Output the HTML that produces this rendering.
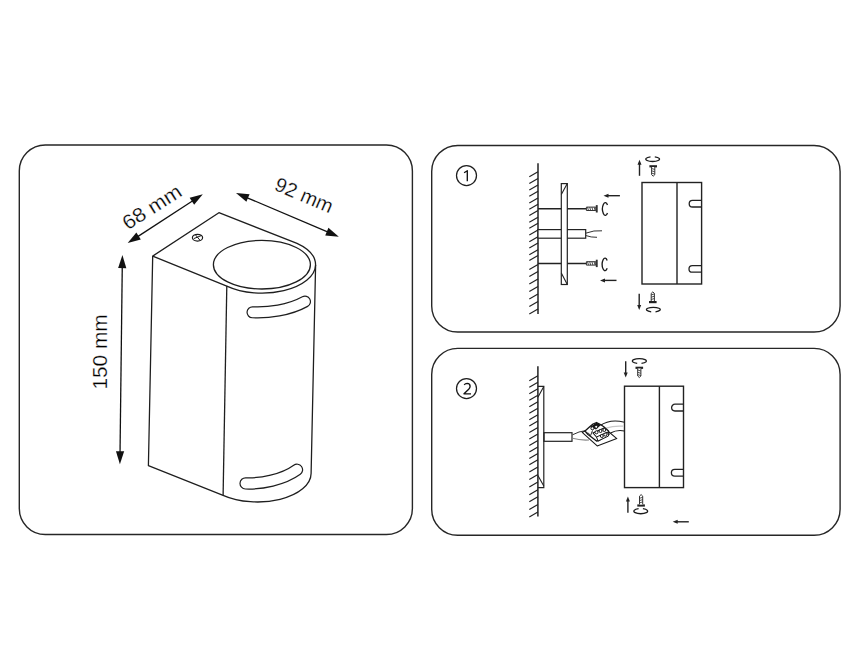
<!DOCTYPE html>
<html><head><meta charset="utf-8"><style>
html,body{margin:0;padding:0;background:#fff;width:860px;height:668px;overflow:hidden}
svg{display:block}
</style></head><body><svg width="860" height="668" viewBox="0 0 860 668"><rect x="19.3" y="145" width="393.1" height="389.5" rx="26" ry="26" fill="none" stroke="#262626" stroke-width="1.4"/><rect x="431.7" y="145.5" width="408.4" height="186.5" rx="26" ry="26" fill="none" stroke="#262626" stroke-width="1.4"/><rect x="431.7" y="348.4" width="408.4" height="186.9" rx="26" ry="26" fill="none" stroke="#262626" stroke-width="1.4"/><path d="M152.7 256.1 L218.9 212.7 L297 243.3 A53.6 28.6 0 0 1 315.6 265 A53.6 28.6 0 0 1 226.8 286.1 Z" fill="none" stroke="#1e1e1e" stroke-width="1.3" stroke-linejoin="round"/><path d="M152.7 256.1 L148.4 465.7 L223.1 495.3 A53.6 28.6 0 0 0 311.1 473.5 L315.6 265" fill="none" stroke="#1e1e1e" stroke-width="1.3" stroke-linejoin="round"/><path d="M226.8 286.1 L223.1 495.3" fill="none" stroke="#1e1e1e" stroke-width="1.3" stroke-linejoin="round"/><ellipse cx="261.9" cy="264.7" rx="48.5" ry="24.3" fill="none" stroke="#1e1e1e" stroke-width="1.3" stroke-linejoin="round"/><ellipse cx="197.5" cy="237.7" rx="5.1" ry="3.35" fill="none" stroke="#1a1a1a" stroke-width="1.2"/><path d="M195.7 235.1 L200.2 240.5 M193.8 238.6 L201.5 235.5" stroke="#1a1a1a" stroke-width="1"/><path d="M252.5 312.3 C268 313 289 310.5 305 301.6" fill="none" stroke="#1e1e1e" stroke-width="12.1" stroke-linecap="round"/><path d="M252.5 312.3 C268 313 289 310.5 305 301.6" fill="none" stroke="#fff" stroke-width="9.7" stroke-linecap="round"/><path d="M245.6 483.4 C261 484 283 480 297 469.8" fill="none" stroke="#1e1e1e" stroke-width="12.4" stroke-linecap="round"/><path d="M245.6 483.4 C261 484 283 480 297 469.8" fill="none" stroke="#fff" stroke-width="10.0" stroke-linecap="round"/><line x1="122.26849337779318" y1="266.0992138813788" x2="120.03150662220683" y2="453.2007861186212" stroke="#111" stroke-width="1.3"/><polygon points="122.40,255.10 126.34,268.15 118.14,268.05" fill="#111"/><polygon points="119.90,464.20 115.96,451.15 124.16,451.25" fill="#111"/><line x1="136.91810945922947" y1="237.09779557181994" x2="193.58189054077053" y2="200.20220442818004" stroke="#111" stroke-width="1.3"/><polygon points="127.70,243.10 136.36,232.57 140.83,239.44" fill="#111"/><polygon points="202.80,194.20 194.14,204.73 189.67,197.86" fill="#111"/><line x1="246.12328557758832" y1="197.3033811258814" x2="328.6767144224117" y2="232.3966188741186" stroke="#111" stroke-width="1.3"/><polygon points="236.00,193.00 249.57,194.31 246.36,201.86" fill="#111"/><polygon points="338.80,236.70 325.23,235.39 328.44,227.84" fill="#111"/><text transform="translate(107,352) rotate(-90)" font-family="Liberation Sans, sans-serif" font-size="20" fill="#000" stroke="#fff" stroke-width="0.25" text-anchor="middle" font-size="21.5" textLength="75" lengthAdjust="spacingAndGlyphs">150 mm</text><text transform="translate(155.5,212.8) rotate(-32.5)" font-family="Liberation Sans, sans-serif" font-size="20" fill="#000" stroke="#fff" stroke-width="0.25" text-anchor="middle" font-size="21.5" textLength="66" lengthAdjust="spacingAndGlyphs">68 mm</text><text transform="translate(301.5,201.5) rotate(23)" font-family="Liberation Sans, sans-serif" font-size="20" fill="#000" stroke="#fff" stroke-width="0.25" text-anchor="middle" font-size="20.6">92 mm</text><circle cx="466.5" cy="175.6" r="10" fill="none" stroke="#1e1e1e" stroke-width="1.25"/><circle cx="466.5" cy="388.6" r="10" fill="none" stroke="#1e1e1e" stroke-width="1.25"/><path d="M464.1 172.7 L467.3 170.7 L467.3 181.3" fill="none" stroke="#111" stroke-width="1.35" stroke-linejoin="round"/><path d="M464.2 384.8 Q465.3 383.3 467.1 383.3 Q470.1 383.4 470.1 386.3 Q470.1 387.7 468.7 389.2 L464 393.8 L471 393.8" fill="none" stroke="#111" stroke-width="1.35" stroke-linejoin="round"/><line x1="538" y1="163.3" x2="538" y2="314" stroke="#222" stroke-width="1.5"/><line x1="529.3" y1="176.8" x2="538" y2="171.8" stroke="#222" stroke-width="1.2"/><line x1="529.3" y1="183.4" x2="538" y2="178.4" stroke="#222" stroke-width="1.2"/><line x1="529.3" y1="189.9" x2="538" y2="184.9" stroke="#222" stroke-width="1.2"/><line x1="529.3" y1="196.2" x2="538" y2="191.2" stroke="#222" stroke-width="1.2"/><line x1="529.3" y1="202.9" x2="538" y2="197.9" stroke="#222" stroke-width="1.2"/><line x1="529.3" y1="209.2" x2="538" y2="204.2" stroke="#222" stroke-width="1.2"/><line x1="529.3" y1="215.5" x2="538" y2="210.5" stroke="#222" stroke-width="1.2"/><line x1="529.3" y1="222.2" x2="538" y2="217.2" stroke="#222" stroke-width="1.2"/><line x1="529.3" y1="228.2" x2="538" y2="223.2" stroke="#222" stroke-width="1.2"/><line x1="529.3" y1="235.0" x2="538" y2="230.0" stroke="#222" stroke-width="1.2"/><line x1="529.3" y1="241.7" x2="538" y2="236.7" stroke="#222" stroke-width="1.2"/><line x1="529.3" y1="248.0" x2="538" y2="243.0" stroke="#222" stroke-width="1.2"/><line x1="529.3" y1="254.7" x2="538" y2="249.7" stroke="#222" stroke-width="1.2"/><line x1="529.3" y1="260.6" x2="538" y2="255.6" stroke="#222" stroke-width="1.2"/><line x1="529.3" y1="269.4" x2="538" y2="264.4" stroke="#222" stroke-width="1.2"/><line x1="529.3" y1="276.4" x2="538" y2="271.4" stroke="#222" stroke-width="1.2"/><line x1="529.3" y1="283.9" x2="538" y2="278.9" stroke="#222" stroke-width="1.2"/><line x1="529.3" y1="291.6" x2="538" y2="286.6" stroke="#222" stroke-width="1.2"/><line x1="529.3" y1="299.1" x2="538" y2="294.1" stroke="#222" stroke-width="1.2"/><line x1="529.3" y1="306.6" x2="538" y2="301.6" stroke="#222" stroke-width="1.2"/><line x1="529.3" y1="313.9" x2="538" y2="308.9" stroke="#222" stroke-width="1.2"/><line x1="538" y1="208.8" x2="586.5" y2="208.8" stroke="#222" stroke-width="1.5"/><line x1="538" y1="263.4" x2="586.5" y2="263.4" stroke="#222" stroke-width="1.5"/><rect x="538" y="229.6" width="47.7" height="8.6" fill="#fff" stroke="#222" stroke-width="1.2"/><path d="M585.7 233.2 Q594 230 602 230.8 M585.7 235.5 Q591 237.5 597 237.3" fill="none" stroke="#333" stroke-width="1"/><rect x="561.3" y="183.6" width="6" height="100.9" fill="#fff" stroke="#222" stroke-width="1.2"/><path d="M567.3 183.6 L561.3 194.5 M561.3 273 L567.3 284.5" stroke="#222" stroke-width="1.1"/><path d="M586.4 207.10000000000002 L595.8 207.10000000000002 L595.8 210.5 L586.4 210.5 Z" fill="#fff" stroke="#333" stroke-width="1"/><rect x="595.8" y="205.10000000000002" width="1.9" height="7.4" fill="#333"/><line x1="587.5" y1="207.10000000000002" x2="588.5" y2="210.5" stroke="#333" stroke-width="0.85"/><line x1="589.7" y1="207.10000000000002" x2="590.7" y2="210.5" stroke="#333" stroke-width="0.85"/><line x1="591.9" y1="207.10000000000002" x2="592.9" y2="210.5" stroke="#333" stroke-width="0.85"/><line x1="594.1" y1="207.10000000000002" x2="595.1" y2="210.5" stroke="#333" stroke-width="0.85"/><path d="M586.4 261.7 L595.8 261.7 L595.8 265.09999999999997 L586.4 265.09999999999997 Z" fill="#fff" stroke="#333" stroke-width="1"/><rect x="595.8" y="259.7" width="1.9" height="7.4" fill="#333"/><line x1="587.5" y1="261.7" x2="588.5" y2="265.09999999999997" stroke="#333" stroke-width="0.85"/><line x1="589.7" y1="261.7" x2="590.7" y2="265.09999999999997" stroke="#333" stroke-width="0.85"/><line x1="591.9" y1="261.7" x2="592.9" y2="265.09999999999997" stroke="#333" stroke-width="0.85"/><line x1="594.1" y1="261.7" x2="595.1" y2="265.09999999999997" stroke="#333" stroke-width="0.85"/><path d="M607.47 205.06 A2.75 6.400000000000011 0 1 0 607.47 212.94" fill="none" stroke="#1a1a1a" stroke-width="1.35"/><path d="M607.17 260.52 A2.75 6.300000000000017 0 1 0 607.17 268.28" fill="none" stroke="#1a1a1a" stroke-width="1.35"/><line x1="606.5" y1="195.7" x2="619.9" y2="195.7" stroke="#222" stroke-width="1.4"/><polygon points="603.5,195.7 608.5,193.7 608.5,197.7" fill="#222"/><line x1="603" y1="280.4" x2="616.5" y2="280.4" stroke="#222" stroke-width="1.4"/><polygon points="600,280.4 605,278.4 605,282.4" fill="#222"/><line x1="675.7" y1="521.8" x2="688.8" y2="521.8" stroke="#222" stroke-width="1.4"/><polygon points="672.7,521.8 677.7,519.8 677.7,523.8" fill="#222"/><rect x="642" y="182.5" width="59.6" height="101.5" fill="none" stroke="#222" stroke-width="1.4"/><line x1="677" y1="182.5" x2="677" y2="284" stroke="#222" stroke-width="1.4"/><path d="M701.6 200.4 L692.5 200.4 A3.299999999999997 3.299999999999997 0 0 0 692.5 207 L701.6 207" fill="none" stroke="#222" stroke-width="1.3"/><path d="M701.6 265.6 L692.3 265.6 A3.299999999999983 3.299999999999983 0 0 0 692.3 272.2 L701.6 272.2" fill="none" stroke="#222" stroke-width="1.3"/><rect x="624.5" y="386.2" width="59.0" height="101.4" fill="none" stroke="#222" stroke-width="1.4"/><line x1="659.4" y1="386.2" x2="659.4" y2="487.6" stroke="#222" stroke-width="1.4"/><path d="M683.5 404.2 L675.0 404.2 A3.4000000000000057 3.4000000000000057 0 0 0 675.0 411 L683.5 411" fill="none" stroke="#222" stroke-width="1.3"/><path d="M683.5 469.4 L674.75 469.4 A3.3500000000000227 3.3500000000000227 0 0 0 674.75 476.1 L683.5 476.1" fill="none" stroke="#222" stroke-width="1.3"/><line x1="639.5" y1="162.7" x2="639.5" y2="175.8" stroke="#222" stroke-width="1.4"/><polygon points="639.5,159.7 637.5,164.7 641.5,164.7" fill="#222"/><path d="M650.5 156.79999999999998 A6.9 2.4 0 1 0 654.8 156.79999999999998" fill="none" stroke="#1a1a1a" stroke-width="1.3"/><rect x="649.4000000000001" y="165.2" width="7.6" height="2.2" fill="#222"/><path d="M651.6 167 L651.6 174.7 L653.2 176.2 L654.8000000000001 174.7 L654.8000000000001 167" fill="#fff" stroke="#333" stroke-width="1"/><line x1="651.6" y1="168.5" x2="654.8000000000001" y2="169.5" stroke="#333" stroke-width="0.85"/><line x1="651.6" y1="170.8" x2="654.8000000000001" y2="171.8" stroke="#333" stroke-width="0.85"/><line x1="651.6" y1="173.1" x2="654.8000000000001" y2="174.1" stroke="#333" stroke-width="0.85"/><line x1="639.2" y1="306.9" x2="639.2" y2="293.7" stroke="#222" stroke-width="1.4"/><polygon points="639.2,309.9 637.2,304.9 641.2,304.9" fill="#222"/><rect x="649.0" y="301" width="7.6" height="2.2" fill="#222"/><path d="M651.1999999999999 301 L651.1999999999999 293.4 L652.8 291.9 L654.4 293.4 L654.4 301" fill="#fff" stroke="#333" stroke-width="1"/><line x1="651.1999999999999" y1="299.5" x2="654.4" y2="298.5" stroke="#333" stroke-width="0.85"/><line x1="651.1999999999999" y1="297.2" x2="654.4" y2="296.2" stroke="#333" stroke-width="0.85"/><line x1="651.1999999999999" y1="294.9" x2="654.4" y2="293.9" stroke="#333" stroke-width="0.85"/><path d="M655.5 311.8 A6.9 2.3 0 1 0 651.2 311.8" fill="none" stroke="#1a1a1a" stroke-width="1.3"/><line x1="625.7" y1="374.5" x2="625.7" y2="361.3" stroke="#222" stroke-width="1.4"/><polygon points="625.7,377.5 623.7,372.5 627.7,372.5" fill="#222"/><path d="M641.5 363.4 A7 2.4 0 1 0 637.2 363.4" fill="none" stroke="#1a1a1a" stroke-width="1.3"/><rect x="635.5" y="366.7" width="7.6" height="2.2" fill="#222"/><path d="M637.6999999999999 368.5 L637.6999999999999 376.0 L639.3 377.5 L640.9 376.0 L640.9 368.5" fill="#fff" stroke="#333" stroke-width="1"/><line x1="637.6999999999999" y1="370.0" x2="640.9" y2="371.0" stroke="#333" stroke-width="0.85"/><line x1="637.6999999999999" y1="372.3" x2="640.9" y2="373.3" stroke="#333" stroke-width="0.85"/><line x1="637.6999999999999" y1="374.6" x2="640.9" y2="375.6" stroke="#333" stroke-width="0.85"/><line x1="627.9" y1="499.6" x2="627.9" y2="512.8" stroke="#222" stroke-width="1.4"/><polygon points="627.9,496.6 625.9,501.6 629.9,501.6" fill="#222"/><rect x="637.3000000000001" y="504.4" width="7.6" height="2.2" fill="#222"/><path d="M639.5 504.4 L639.5 496.1 L641.1 494.6 L642.7 496.1 L642.7 504.4" fill="#fff" stroke="#333" stroke-width="1"/><line x1="639.5" y1="502.9" x2="642.7" y2="501.9" stroke="#333" stroke-width="0.85"/><line x1="639.5" y1="500.59999999999997" x2="642.7" y2="499.59999999999997" stroke="#333" stroke-width="0.85"/><line x1="639.5" y1="498.29999999999995" x2="642.7" y2="497.29999999999995" stroke="#333" stroke-width="0.85"/><path d="M638.6 508.7 A6.9 2.6 0 1 0 642.9 508.7" fill="none" stroke="#1a1a1a" stroke-width="1.3"/><line x1="537.9" y1="366.3" x2="537.9" y2="516.5" stroke="#222" stroke-width="1.5"/><line x1="529.3" y1="380.8" x2="537.9" y2="375.8" stroke="#222" stroke-width="1.2"/><line x1="529.3" y1="387.3" x2="537.9" y2="382.3" stroke="#222" stroke-width="1.2"/><line x1="529.3" y1="393.8" x2="537.9" y2="388.8" stroke="#222" stroke-width="1.2"/><line x1="529.3" y1="400.3" x2="537.9" y2="395.3" stroke="#222" stroke-width="1.2"/><line x1="529.3" y1="406.8" x2="537.9" y2="401.8" stroke="#222" stroke-width="1.2"/><line x1="529.3" y1="413.3" x2="537.9" y2="408.3" stroke="#222" stroke-width="1.2"/><line x1="529.3" y1="419.8" x2="537.9" y2="414.8" stroke="#222" stroke-width="1.2"/><line x1="529.3" y1="426.0" x2="537.9" y2="421.0" stroke="#222" stroke-width="1.2"/><line x1="529.3" y1="432.4" x2="537.9" y2="427.4" stroke="#222" stroke-width="1.2"/><line x1="529.3" y1="438.9" x2="537.9" y2="433.9" stroke="#222" stroke-width="1.2"/><line x1="529.3" y1="445.5" x2="537.9" y2="440.5" stroke="#222" stroke-width="1.2"/><line x1="529.3" y1="452.0" x2="537.9" y2="447.0" stroke="#222" stroke-width="1.2"/><line x1="529.3" y1="458.4" x2="537.9" y2="453.4" stroke="#222" stroke-width="1.2"/><line x1="529.3" y1="464.8" x2="537.9" y2="459.8" stroke="#222" stroke-width="1.2"/><line x1="529.3" y1="471.9" x2="537.9" y2="466.9" stroke="#222" stroke-width="1.2"/><line x1="529.3" y1="479.4" x2="537.9" y2="474.4" stroke="#222" stroke-width="1.2"/><line x1="529.3" y1="487.0" x2="537.9" y2="482.0" stroke="#222" stroke-width="1.2"/><line x1="529.3" y1="494.7" x2="537.9" y2="489.7" stroke="#222" stroke-width="1.2"/><line x1="529.3" y1="501.8" x2="537.9" y2="496.8" stroke="#222" stroke-width="1.2"/><line x1="529.3" y1="509.5" x2="537.9" y2="504.5" stroke="#222" stroke-width="1.2"/><line x1="529.3" y1="517.1" x2="537.9" y2="512.1" stroke="#222" stroke-width="1.2"/><rect x="544" y="432.7" width="28" height="8.6" fill="#fff" stroke="#222" stroke-width="1.2"/><path d="M537.9 386.4 L543.8 386.4 L543.8 487.6 L537.9 487.6" fill="none" stroke="#222" stroke-width="1.2"/><path d="M543.8 386.4 L537.9 397.3 M537.9 475.5 L543.8 486" stroke="#222" stroke-width="1.1"/><path d="M572.5 434.8 Q578 431.5 587.5 430.2" fill="none" stroke="#333" stroke-width="1"/><path d="M572.5 438.3 Q580 440.5 589 440" fill="none" stroke="#888" stroke-width="1.1"/><polygon points="582.2,432.3 600.7,425 616.8,438.6 597.2,445.9" fill="#fff" stroke="#1a1a1a" stroke-width="1.1" stroke-linejoin="round"/><path d="M600 425.7 Q610 418.5 624.4 422.2" fill="none" stroke="#1a1a1a" stroke-width="1.1"/><path d="M606 428.2 Q614 425.5 623 426.2" fill="none" stroke="#c8c8c8" stroke-width="1.3"/><path d="M610.5 433 Q617 429.5 624.4 431" fill="none" stroke="#1a1a1a" stroke-width="1.1"/><polygon points="585,431 590,426.5 593,424 596.5,422.5 599.5,424 603.5,426.5 608.5,431 609,434.5 599,440.5 596.5,441 592,437.5 588,434.5" fill="#fff" stroke="#151515" stroke-width="1.3" stroke-linejoin="round"/><polygon points="590,427 596.5,422.5 601,425 596,429.5" fill="#151515"/><polygon points="596.5,437 607.5,432 608.5,436 598,441" fill="#fff" stroke="#151515" stroke-width="1"/><path d="M596.5 437 L593 433 L604 428" fill="none" stroke="#151515" stroke-width="1.1"/><circle cx="592.4" cy="428.3" r="1.5" fill="#fff" stroke="#151515" stroke-width="1"/><circle cx="596.2" cy="426.8" r="1.5" fill="#fff" stroke="#151515" stroke-width="1"/><circle cx="596.5" cy="432.3" r="1.5" fill="#fff" stroke="#151515" stroke-width="1"/><circle cx="600.5" cy="431" r="1.5" fill="#fff" stroke="#151515" stroke-width="1"/><circle cx="604.3" cy="430" r="1.5" fill="#fff" stroke="#151515" stroke-width="1"/><circle cx="601.8" cy="436" r="1.5" fill="#fff" stroke="#151515" stroke-width="1"/><circle cx="605.3" cy="434.6" r="1.5" fill="#fff" stroke="#151515" stroke-width="1"/><path d="M587.8 432.5 L590.6 435.5 L592.5 430.5" fill="none" stroke="#151515" stroke-width="0.9"/></svg></body></html>
